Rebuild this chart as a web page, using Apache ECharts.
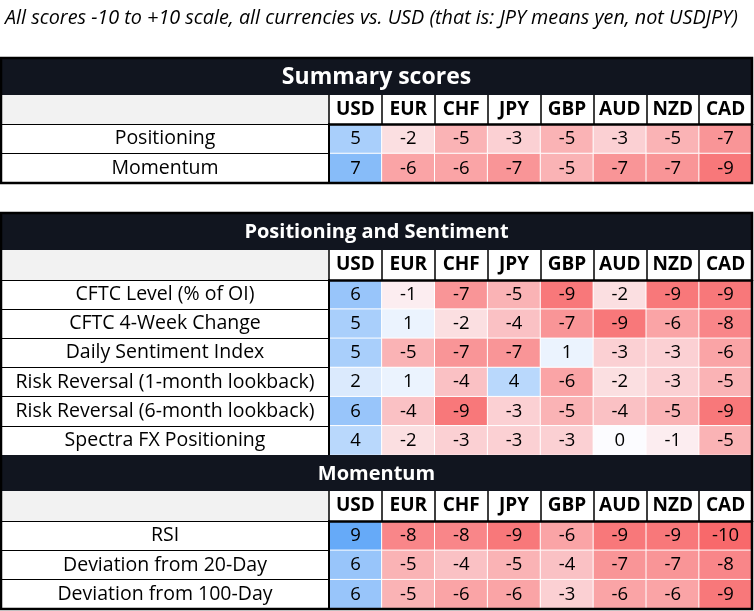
<!DOCTYPE html>
<html>
<head>
<meta charset="utf-8">
<script src="https://cdn.jsdelivr.net/npm/echarts@6/dist/echarts.min.js"></script>
<style>
  html, body { margin: 0; padding: 0; background: #fff; }
  #main { width: 754px; height: 611px; }
</style>
</head>
<body>
<div id="main"></div>
<script>
var currencies = ['USD', 'EUR', 'CHF', 'JPY', 'GBP', 'AUD', 'NZD', 'CAD'];

var summaryRows = ['Positioning', 'Momentum'];
var summaryScores = [
	[5, -2, -5, -3, -5, -3, -5, -7],
	[7, -6, -6, -7, -5, -7, -7, -9]
];

var positioningRows = ['CFTC Level (% of OI)', 'CFTC 4-Week Change', 'Daily Sentiment Index',
	'Risk Reversal (1-month lookback)', 'Risk Reversal (6-month lookback)', 'Spectra FX Positioning'];
var positioningScores = [
	[6, -1, -7, -5, -9, -2, -9, -9],
	[5, 1, -2, -4, -7, -9, -6, -8],
	[5, -5, -7, -7, 1, -3, -3, -6],
	[2, 1, -4, 4, -6, -2, -3, -5],
	[6, -4, -9, -3, -5, -4, -5, -9],
	[4, -2, -3, -3, -3, 0, -1, -5]
];

var momentumRows = ['RSI', 'Deviation from 20-Day', 'Deviation from 100-Day'];
var momentumScores = [
	[9, -8, -8, -9, -6, -9, -9, -10],
	[6, -5, -4, -5, -4, -7, -7, -8],
	[6, -5, -6, -6, -3, -6, -6, -9]
];

var FONT = '"Open Sans", "Noto Sans", sans-serif';
var LEFT = 1, SPLIT = 329, RIGHT = 752;

// layout of the three blocks (pixels)
var blocks = [
	{ title: 'Summary scores', titleSize: 23, top: 58, titleH: 37, headH: 29, bodyH: 59, rows: summaryRows, scores: summaryScores },
	{ title: 'Positioning and Sentiment', titleSize: 20, top: 213, titleH: 37, headH: 30, bodyH: 175, rows: positioningRows, scores: positioningScores },
	{ title: 'Momentum', titleSize: 20, top: 455, titleH: 36, headH: 30, bodyH: 88, rows: momentumRows, scores: momentumScores }
];

function toCells(scores) {
	var out = [];
	for (var r = 0; r < scores.length; r++) {
		for (var c = 0; c < scores[r].length; c++) {
			out.push([c, r, scores[r][c]]);
		}
	}
	return out;
}

var grids = [], xAxes = [], yAxes = [], series = [], graphics = [];

blocks.forEach(function (b, i) {
	var headTop = b.top + b.titleH;
	var bodyTop = headTop + b.headH;

	grids.push({ left: SPLIT, top: bodyTop, width: RIGHT - SPLIT, height: b.bodyH });

	xAxes.push({
		gridIndex: i,
		type: 'category',
		position: 'top',
		data: currencies,
		z: 5,
		axisLine: { lineStyle: { color: '#000', width: 2.5 } },
		axisTick: { show: true, interval: 0, length: b.headH, lineStyle: { color: '#000', width: 1.5 } },
		axisLabel: {
			interval: 0,
			margin: b.headH / 2,
			verticalAlign: 'middle',
			color: '#000',
			fontFamily: FONT,
			fontWeight: 'bold',
			fontSize: 19
		},
		splitLine: { show: false }
	});

	yAxes.push({
		gridIndex: i,
		type: 'category',
		inverse: true,
		data: b.rows,
		z: 5,
		axisLine: { lineStyle: { color: '#000', width: 2 } },
		axisTick: { show: true, interval: 0, length: SPLIT - LEFT, lineStyle: { color: '#000', width: 1 } },
		axisLabel: {
			interval: 0,
			margin: (SPLIT - LEFT) / 2,
			align: 'center',
			color: '#000',
			fontFamily: FONT,
			fontSize: 19.5
		},
		splitLine: { show: false }
	});

	series.push({
		type: 'heatmap',
		xAxisIndex: i,
		yAxisIndex: i,
		data: toCells(b.scores),
		itemStyle: { borderColor: '#fff', borderWidth: 1 },
		label: { show: true, color: '#000', fontFamily: FONT, fontSize: 18.5 },
		emphasis: { disabled: true }
	});

	// title band
	graphics.push({
		type: 'rect', z: 10,
		shape: { x: LEFT, y: b.top, width: RIGHT - LEFT, height: b.titleH },
		style: { fill: '#11151f' }
	});
	graphics.push({
		type: 'text', z: 11,
		x: (LEFT + RIGHT) / 2, y: b.top + b.titleH / 2 + 1,
		style: {
			text: b.title, fill: '#fff',
			font: 'bold ' + b.titleSize + 'px ' + FONT,
			textAlign: 'center', textVerticalAlign: 'middle'
		}
	});
	// grey header cell above the label column
	graphics.push({
		type: 'rect', z: 1,
		shape: { x: LEFT, y: headTop, width: SPLIT - LEFT, height: b.headH },
		style: { fill: '#f2f2f2' }
	});
});

// outer borders
graphics.push({
	type: 'rect', z: 100,
	shape: { x: LEFT, y: 58, width: RIGHT - LEFT, height: 125 },
	style: { fill: null, stroke: '#000', lineWidth: 2.5 }
});
graphics.push({
	type: 'rect', z: 100,
	shape: { x: LEFT, y: 213, width: RIGHT - LEFT, height: 396 },
	style: { fill: null, stroke: '#000', lineWidth: 2.5 }
});
// subtitle
graphics.push({
	type: 'text', z: 11,
	x: 5, y: 18,
	style: {
		text: 'All scores -10 to +10 scale, all currencies vs. USD (that is: JPY means yen, not USDJPY)',
		fill: '#000',
		font: 'italic 19.8px ' + FONT,
		textAlign: 'left', textVerticalAlign: 'middle'
	}
});

var chart = echarts.init(document.getElementById('main'));
chart.setOption({
	animation: false,
	grid: grids,
	xAxis: xAxes,
	yAxis: yAxes,
	visualMap: {
		show: false,
		type: 'continuous',
		min: -10,
		max: 10,
		seriesIndex: [0, 1, 2],
		inRange: { color: ['#f8696b', '#fcfcff', '#55a1f7'] }
	},
	series: series,
	graphic: { elements: graphics }
});
</script>
</body>
</html>
